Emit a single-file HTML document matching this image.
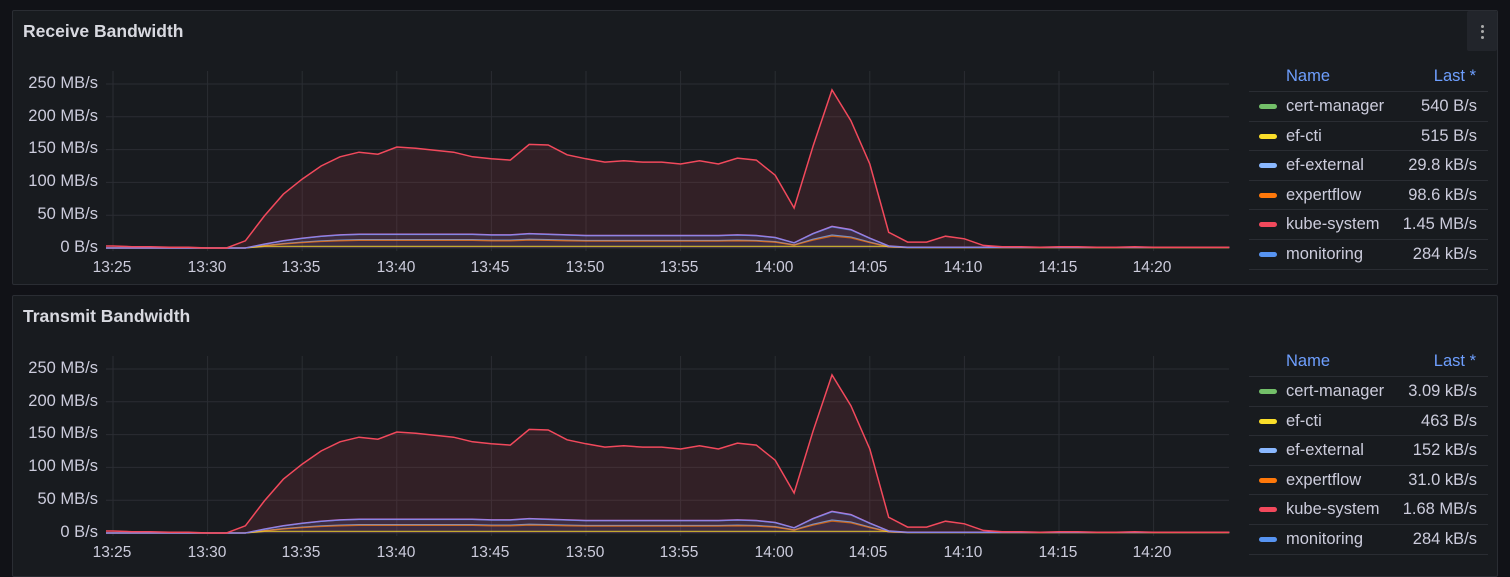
<!DOCTYPE html>
<html><head><meta charset="utf-8"><style>
body{margin:0;background:#111217;width:1510px;height:569px;overflow:hidden;font-family:"Liberation Sans",sans-serif;color:#ccccdc;}
.panel{position:absolute;left:12px;width:1484px;background:#181b1f;border:1px solid #2a2d33;border-radius:2px;}
.title{position:absolute;left:10px;top:10px;font-size:17.5px;font-weight:bold;color:#d8d9e0;}
.menu{position:absolute;right:0;top:0;width:30px;height:40px;background:#22252b;border-radius:2px;}
.menu i{position:absolute;left:14px;width:3px;height:3px;border-radius:2px;background:#aaa;}
svg{position:absolute;left:0;top:0;}
.yl{position:absolute;right:1399px;font-size:16.5px;color:#ccccdc;text-align:right;white-space:nowrap;}
.xl{position:absolute;font-size:15.5px;color:#ccccdc;width:60px;text-align:center;margin-left:-30px;}
.leg{position:absolute;left:1236px;width:239px;font-size:16.5px;}
.lh{height:29px;color:#6e9fff;position:relative;border-bottom:1px solid #2a2d33;}
.row{height:28.6px;position:relative;border-bottom:1px solid #2a2d33;}
.row span,.lh span{position:absolute;top:5px;}
.sw{position:absolute;left:10px;top:12px;width:18px;height:5px;border-radius:3px;}
</style></head><body>
<div class="panel" style="top:10px;height:273px;">
<div class="title">Receive Bandwidth</div>
<div class="menu"><i style="top:14px"></i><i style="top:19px"></i><i style="top:25px"></i></div>
<svg id="s1" width="1484" height="273"></svg>
<div class="yl" style="top:63px">250 MB/s</div>
<div class="yl" style="top:96px">200 MB/s</div>
<div class="yl" style="top:128px">150 MB/s</div>
<div class="yl" style="top:161px">100 MB/s</div>
<div class="yl" style="top:194px">50 MB/s</div>
<div class="yl" style="top:227px">0 B/s</div>
<div class="leg" style="top:51px">
<div class="lh"><span style="left:37px">Name</span><span style="right:12px">Last *</span></div>
<div class="row"><div class="sw" style="background:#73bf69"></div><span style="left:37px">cert-manager</span><span style="right:11px">540 B/s</span></div>
<div class="row"><div class="sw" style="background:#fade2a"></div><span style="left:37px">ef-cti</span><span style="right:11px">515 B/s</span></div>
<div class="row"><div class="sw" style="background:#8ab8ff"></div><span style="left:37px">ef-external</span><span style="right:11px">29.8 kB/s</span></div>
<div class="row"><div class="sw" style="background:#ff780a"></div><span style="left:37px">expertflow</span><span style="right:11px">98.6 kB/s</span></div>
<div class="row"><div class="sw" style="background:#f2495c"></div><span style="left:37px">kube-system</span><span style="right:11px">1.45 MB/s</span></div>
<div class="row"><div class="sw" style="background:#5794f2"></div><span style="left:37px">monitoring</span><span style="right:11px">284 kB/s</span></div>
</div>
</div>
<div class="panel" style="top:295px;height:280px;">
<div class="title">Transmit Bandwidth</div>
<svg id="s2" width="1484" height="280"></svg>
<div class="yl" style="top:63px">250 MB/s</div>
<div class="yl" style="top:96px">200 MB/s</div>
<div class="yl" style="top:128px">150 MB/s</div>
<div class="yl" style="top:161px">100 MB/s</div>
<div class="yl" style="top:194px">50 MB/s</div>
<div class="yl" style="top:227px">0 B/s</div>
<div class="leg" style="top:51px">
<div class="lh"><span style="left:37px">Name</span><span style="right:12px">Last *</span></div>
<div class="row"><div class="sw" style="background:#73bf69"></div><span style="left:37px">cert-manager</span><span style="right:11px">3.09 kB/s</span></div>
<div class="row"><div class="sw" style="background:#fade2a"></div><span style="left:37px">ef-cti</span><span style="right:11px">463 B/s</span></div>
<div class="row"><div class="sw" style="background:#8ab8ff"></div><span style="left:37px">ef-external</span><span style="right:11px">152 kB/s</span></div>
<div class="row"><div class="sw" style="background:#ff780a"></div><span style="left:37px">expertflow</span><span style="right:11px">31.0 kB/s</span></div>
<div class="row"><div class="sw" style="background:#f2495c"></div><span style="left:37px">kube-system</span><span style="right:11px">1.68 MB/s</span></div>
<div class="row"><div class="sw" style="background:#5794f2"></div><span style="left:37px">monitoring</span><span style="right:11px">284 kB/s</span></div>
</div>
</div>
<div style="position:absolute;left:0;top:2px">
<div class="xl" style="left:112px;top:257px">13:25</div><div class="xl" style="left:207px;top:257px">13:30</div><div class="xl" style="left:301px;top:257px">13:35</div><div class="xl" style="left:396px;top:257px">13:40</div><div class="xl" style="left:490px;top:257px">13:45</div><div class="xl" style="left:585px;top:257px">13:50</div><div class="xl" style="left:679px;top:257px">13:55</div><div class="xl" style="left:774px;top:257px">14:00</div><div class="xl" style="left:868px;top:257px">14:05</div><div class="xl" style="left:963px;top:257px">14:10</div><div class="xl" style="left:1058px;top:257px">14:15</div><div class="xl" style="left:1152px;top:257px">14:20</div>
</div>
<div style="position:absolute;left:0;top:287px">
<div class="xl" style="left:112px;top:257px">13:25</div><div class="xl" style="left:207px;top:257px">13:30</div><div class="xl" style="left:301px;top:257px">13:35</div><div class="xl" style="left:396px;top:257px">13:40</div><div class="xl" style="left:490px;top:257px">13:45</div><div class="xl" style="left:585px;top:257px">13:50</div><div class="xl" style="left:679px;top:257px">13:55</div><div class="xl" style="left:774px;top:257px">14:00</div><div class="xl" style="left:868px;top:257px">14:05</div><div class="xl" style="left:963px;top:257px">14:10</div><div class="xl" style="left:1058px;top:257px">14:15</div><div class="xl" style="left:1152px;top:257px">14:20</div>
</div>
<script>
var red=[3,3,2,2,1,1,0,0,11,49,82,105,125,139,146,143,154,152,149,146,139,136,134,158,157,142,136,131,133,131,131,128,133,128,137,134,111,61,155,241,194,128,24,9,9,18,14,4,2,2,1,2,2,1,1,2,1,1,1,1,1];
var M=[0,0,0,0,0,0,0,0,0,6,11,15,18,20,21,21,21,21,21,21,21,20,20,22,21,20,19,19,19,19,19,19,19,19,20,19,16,8,22,33,28,15,3,1,1,1,1,1,1,1,1,1,1,1,1,1,1,1,1,1,1];
function mon(i){return M[i];}
function draw(id){
var s=document.getElementById(id),ox=-12,h='';
var X=function(i){return Math.max(105,112+18.92*(i-1))+ox;},Y=function(v){return 237-v*0.656;};
for(var k=0;k<6;k++){var y=Y(k*50);h+='<line x1="93" x2="1216" y1="'+y+'" y2="'+y+'" stroke="#2a2d33"/>';}
for(var k=0;k<12;k++){var x=112+ox+18.92*k*5;h+='<line x1="'+x+'" x2="'+x+'" y1="60" y2="240" stroke="#2a2d33"/>';}
function path(f,n){var p='';for(var i=0;i<n;i++)p+=(i?'L':'M')+X(i).toFixed(1)+','+Y(f(i)).toFixed(1);return p;}
var n=red.length;
var base='L'+X(n-1)+','+Y(0)+'L'+X(0)+','+Y(0)+'Z';
var pr=path(function(i){return red[i];},n);
h+='<path d="'+pr+base+'" fill="#f2495c" fill-opacity="0.12"/>';
var pm=path(mon,n);
h+='<path d="'+pm+base+'" fill="#8f6fd8" fill-opacity="0.15"/>';
h+='<path d="'+path(function(i){return mon(i)*0.6;},n)+'" fill="none" stroke="#8ab8ff" stroke-width="1.3" stroke-opacity=".7"/>';
h+='<path d="'+path(function(i){return mon(i)*0.55;},n)+'" fill="none" stroke="#ff780a" stroke-width="1.3" stroke-opacity=".7"/>';
h+='<path d="'+path(function(i){return Math.min(mon(i),3)*0.8;},n)+'" fill="none" stroke="#fade2a" stroke-width="1.2" stroke-opacity=".7"/>';
h+='<path d="'+pm+'" fill="none" stroke="#b877d9" stroke-width="1.5"/>';
h+='<path d="'+path(function(i){return mon(i)*0.97;},n)+'" fill="none" stroke="#5794f2" stroke-width="1" stroke-opacity=".6"/>';
h+='<path d="'+pr+'" fill="none" stroke="#f2495c" stroke-width="1.5"/>';
s.innerHTML=h;}
draw('s1');draw('s2');
</script>
</body></html>
